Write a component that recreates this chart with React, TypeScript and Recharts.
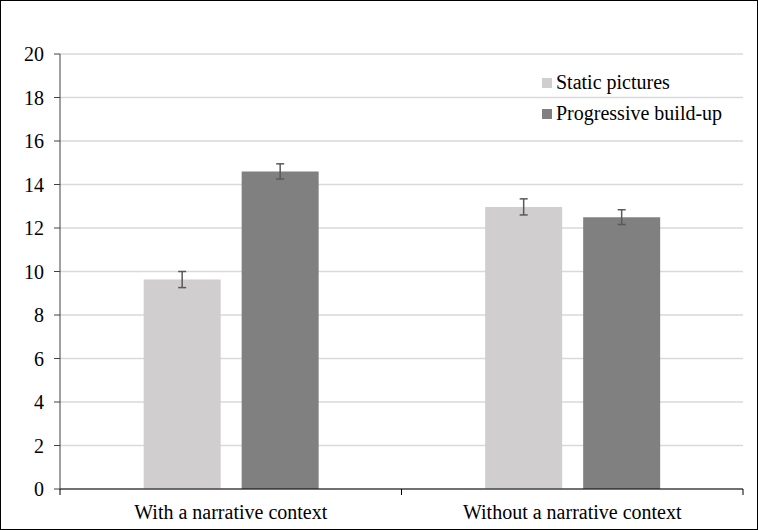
import { Bar, BarChart, CartesianGrid, ErrorBar, Legend, XAxis, YAxis } from "recharts";

const FONT = "'Liberation Serif', 'Times New Roman', serif";
const STATIC_COLOR = "#d0cece";
const PROGRESSIVE_COLOR = "#808080";

const categories = ["With a narrative context", "Without a narrative context"];
const staticValues = [9.63, 12.97];
const staticErrors = [0.37, 0.37];
const progressiveValues = [14.6, 12.5];
const progressiveErrors = [0.35, 0.34];
const yTicks = [0, 2, 4, 6, 8, 10, 12, 14, 16, 18, 20];
const legendItems = [
  { label: "Static pictures", color: STATIC_COLOR },
  { label: "Progressive build-up", color: PROGRESSIVE_COLOR },
];

const data = categories.map((name, i) => ({
  name,
  staticPictures: staticValues[i],
  staticErr: staticErrors[i],
  progressive: progressiveValues[i],
  progressiveErr: progressiveErrors[i],
}));

// category labels plus Excel-style tick marks at the band edges
function CategoryTick(props: any) {
  const { x, y, payload, index, width, visibleTicksCount } = props;
  const band = width / visibleTicksCount;
  return (
    <g>
      {index === 0 && (
        <line x1={x - band / 2} y1={y - 8} x2={x - band / 2} y2={y - 2} stroke="#000" />
      )}
      <line x1={x + band / 2} y1={y - 8} x2={x + band / 2} y2={y - 2} stroke="#000" />
      <text x={x} y={y + 22} textAnchor="middle" fontSize={20} fontFamily={FONT} fill="#000">
        {payload.value}
      </text>
    </g>
  );
}

function LegendBox() {
  return (
    <div style={{ fontFamily: FONT, fontSize: 20, color: "#000" }}>
      {legendItems.map((it) => (
        <div key={it.label} style={{ display: "flex", alignItems: "center", height: 31 }}>
          <span style={{ width: 10, height: 10, background: it.color, marginRight: 4 }} />
          <span>{it.label}</span>
        </div>
      ))}
    </div>
  );
}

export default function App() {
  return (
    <div
      style={{
        position: "absolute",
        left: 0,
        top: 0,
        width: 758,
        height: 530,
        boxSizing: "border-box",
        border: "1px solid #000",
        background: "#fff",
        fontFamily: FONT,
      }}
    >
      <BarChart
        width={756}
        height={528}
        data={data}
        margin={{ top: 53, right: 14, bottom: 10, left: 9 }}
        barCategoryGap="24.5%"
        barGap={21}
      >
        <CartesianGrid vertical={false} stroke="#d9d9d9" strokeWidth={1.5} />
        <XAxis
          dataKey="name"
          height={30}
          axisLine={{ stroke: "#000" }}
          tickLine={false}
          tick={<CategoryTick />}
          interval={0}
        />
        <YAxis
          width={50}
          domain={[0, 20]}
          ticks={yTicks}
          axisLine={{ stroke: "#404040" }}
          tickLine={{ stroke: "#404040" }}
          tickSize={6}
          tickMargin={10}
          tick={{ fontSize: 20, fontFamily: FONT, fill: "#000" }}
        />
        <Legend
          layout="horizontal"
          verticalAlign="middle"
          align="center"
          content={<LegendBox />}
          wrapperStyle={{ left: 541, top: 66, width: 210 }}
        />
        <Bar dataKey="staticPictures" name="Static pictures" fill={STATIC_COLOR} isAnimationActive={false}>
          <ErrorBar dataKey="staticErr" width={4} stroke="#595959" strokeWidth={1.5} />
        </Bar>
        <Bar dataKey="progressive" name="Progressive build-up" fill={PROGRESSIVE_COLOR} isAnimationActive={false}>
          <ErrorBar dataKey="progressiveErr" width={4} stroke="#595959" strokeWidth={1.5} />
        </Bar>
      </BarChart>
    </div>
  );
}
